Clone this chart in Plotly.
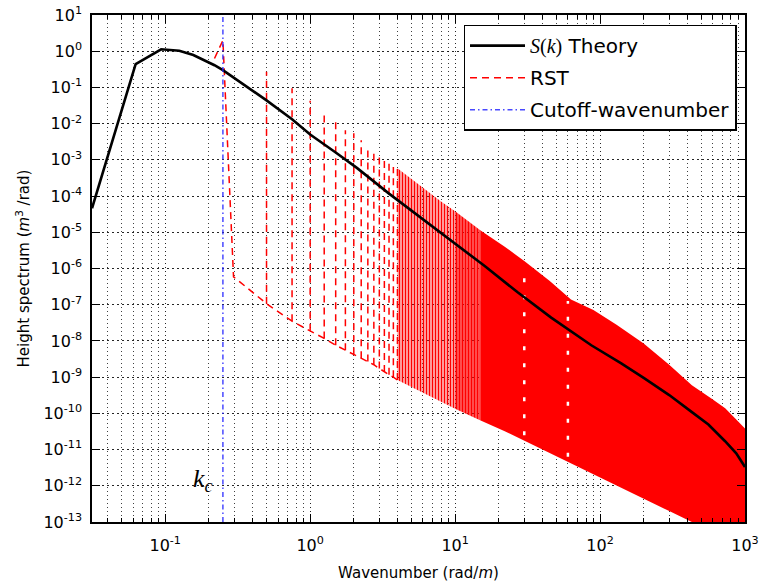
import math
import plotly.graph_objects as go

# ---------------- data ----------------
# Theory S(k)
theory_k = [0.03125, 0.0625, 0.09375, 0.125, 0.15625, 0.1875, 0.21875, 0.25, 0.3125,
            0.5, 0.75, 1.0, 1.5, 2.1, 3.5, 5.5, 10, 16, 27, 46, 87, 140, 200, 300,
            428, 559, 729, 870, 1000]
theory_S = [4.6e-5, 0.44, 1.13, 1.03, 0.785, 0.56, 0.41, 0.30, 0.16,
            0.044, 0.0132, 5.0e-3, 1.6e-3, 6.0e-4, 1.17e-4, 2.95e-5, 4.8e-6, 1.17e-6,
            2.2e-7, 4.4e-8, 7.6e-9, 2.4e-9, 9.5e-10, 3.2e-10, 1.1e-10, 4.9e-11,
            1.7e-11, 7.9e-12, 3.3e-12]

# RST: first peak at the cutoff wavenumber
rst_head_k = [0.21875, 0.25, 0.296]
rst_head_S = [0.63, 2.0, 5.9e-7]

# RST: individual spikes (harmonics of k_c) with base and top levels
spike_k = [0.5, 0.75, 1.0, 1.25, 1.5, 1.75, 2.0, 2.25, 2.5, 2.75, 3.0, 3.25, 3.5, 3.75, 4.0]
spike_base = [1.07e-7, 3.5e-8, 1.9e-8, 1.17e-8, 7.6e-9, 5.5e-9, 4.3e-9, 3.3e-9, 2.7e-9,
              2.2e-9, 1.74e-9, 1.38e-9, 1.17e-9, 1.0e-9, 8.3e-10]
spike_top = [0.27, 0.095, 0.043, 0.021, 0.011, 6.6e-3, 5.4e-3, 3.5e-3, 2.1e-3,
             2.0e-3, 1.26e-3, 1.17e-3, 8.3e-4, 6.3e-4, 5.9e-4]

# RST: dense region envelope (upper / lower)
band_k = [4, 5.5, 8, 10, 15, 22, 30, 45, 63, 90, 130, 200, 300, 430, 600, 730, 870, 1000]
band_upper = [5.9e-4, 2.2e-4, 7.1e-5, 3.8e-5, 1.12e-5, 4.0e-6, 1.6e-6, 4.5e-7, 1.4e-7,
              7.1e-8, 2.8e-8, 8.5e-9, 2.2e-9, 6.0e-10, 2.4e-10, 1.38e-10, 6.8e-11, 3.8e-11]
band_lower = [8.3e-10, 4.5e-10, 2.1e-10, 1.35e-10, 6.3e-11, 3.2e-11, 1.78e-11, 7.9e-12,
              4.2e-12, 2.1e-12, 1.05e-12, 4.4e-13, 2.0e-13, 1.0e-13, 5.0e-14, 3.4e-14,
              2.4e-14, 1.8e-14]

# white dash gaps seen inside the dense region
gap_k = [30, 60]
gap_low = [2.5e-11, 6.3e-12]
gap_high = [7.9e-7, 1.26e-7]

kc = 0.25
y_limits = [1e-13, 10]
x_limits = [0.03125, 1000]
x_tick_exp = [-1, 0, 1, 2, 3]
y_tick_exp = list(range(-13, 2))

FONT = "DejaVu Sans"
RED = "#ff0000"

fig = go.Figure()


def band_trace(k0, k1, **style):
    idx = [i for i, k in enumerate(band_k) if k0 <= k <= k1]
    ks = [band_k[i] for i in idx]
    up = [band_upper[i] for i in idx]
    lo = [band_lower[i] for i in idx]
    return go.Scatter(x=ks + ks[::-1], y=up + lo[::-1], mode="lines",
                      line=dict(width=0, color=RED), fill="toself",
                      showlegend=False, hoverinfo="skip", **style)


fig.add_trace(band_trace(4, 10, fillcolor="rgba(255,255,255,0)",
                         fillpattern=dict(shape="|", fgcolor=RED, fgopacity=1,
                                          bgcolor="rgba(255,255,255,0)",
                                          size=3, solidity=0.6)))
fig.add_trace(band_trace(10, 15, fillcolor="rgba(255,255,255,0)",
                         fillpattern=dict(shape="|", fgcolor=RED, fgopacity=1,
                                          bgcolor="rgba(255,255,255,0)",
                                          size=3, solidity=0.8)))
fig.add_trace(band_trace(15, 1000, fillcolor=RED))

# white gaps
gx, gy = [], []
for k, lo, hi in zip(gap_k, gap_low, gap_high):
    gx += [k, k, None]
    gy += [lo, hi, None]
fig.add_trace(go.Scatter(x=gx, y=gy, mode="lines", showlegend=False, hoverinfo="skip",
                         line=dict(color="white", width=2.5, dash="4px,13px")))

# RST baseline path (with first peak)
fig.add_trace(go.Scatter(x=rst_head_k + spike_k, y=rst_head_S + spike_base, mode="lines",
                         name="RST", legendrank=2, legendgroup="b",
                         line=dict(color=RED, width=1.5, dash="7px,5px")))
# RST spikes
sx, sy = [], []
for k, b, t in zip(spike_k, spike_base, spike_top):
    sx += [k, k, None]
    sy += [b, t, None]
fig.add_trace(go.Scatter(x=sx, y=sy, mode="lines", showlegend=False, hoverinfo="skip",
                         line=dict(color=RED, width=1.5, dash="7px,5px")))

# Theory
fig.add_trace(go.Scatter(x=theory_k, y=theory_S, mode="lines",
                         name="<span style='font-family:Liberation Serif'><i>S</i>(<i>k</i>)</span> Theory",
                         legendrank=1, legendgroup="a",
                         line=dict(color="black", width=2.6)))

# Cutoff wavenumber
fig.add_trace(go.Scatter(x=[kc, kc], y=y_limits, mode="lines", name="Cutoff-wavenumber",
                         legendrank=3, legendgroup="c",
                         line=dict(color="rgba(40,40,255,0.85)", width=1.5,
                                   dash="5px,3px,1.5px,3px")))

fig.add_annotation(x=math.log10(0.182), y=math.log10(1.4e-12), xref="x", yref="y",
                   text="<i>k</i><sub><i>c</i></sub>", showarrow=False,
                   font=dict(family="Liberation Serif", size=26, color="black"))

minor_x = [m * 10 ** e for e in range(-2, 3) for m in range(2, 10)
           if x_limits[0] < m * 10 ** e < x_limits[1]]

fig.update_layout(
    width=761, height=584,
    margin=dict(l=92, r=16, t=15, b=62, autoexpand=False),
    paper_bgcolor="white", plot_bgcolor="white",
    font=dict(family=FONT, size=16, color="black"),
    showlegend=True,
    legend=dict(x=0.987, y=0.981, xanchor="right", yanchor="top",
                bgcolor="white", bordercolor="black", borderwidth=1.5,
                font=dict(family=FONT, size=20, color="black"),
                tracegroupgap=3, itemwidth=55),
    xaxis=dict(type="log", range=[math.log10(x_limits[0]), math.log10(x_limits[1])],
               automargin=False, ticklabeloverflow="allow",
               tickvals=[10 ** e for e in x_tick_exp],
               ticktext=[f"10<sup>{e}</sup>" for e in x_tick_exp],
               ticks="inside", ticklen=8, tickwidth=1, tickcolor="black",
               ticklabelstandoff=8,
               showline=True, linecolor="black", linewidth=1.5, mirror="allticks",
               showgrid=True, gridcolor="rgba(0,0,0,0.85)", gridwidth=1, griddash="1px,3px",
               zeroline=False,
               minor=dict(tickvals=minor_x, ticks="inside", ticklen=4, tickcolor="black",
                          showgrid=True, gridcolor="rgba(0,0,0,0.75)", gridwidth=1,
                          griddash="1px,3px"),
               title=dict(text="Wavenumber (rad/<i>m</i>)", font=dict(size=15), standoff=14)),
    yaxis=dict(type="log", range=[math.log10(y_limits[0]), math.log10(y_limits[1])],
               automargin=False, ticklabeloverflow="allow",
               tickvals=[10 ** e for e in y_tick_exp],
               ticktext=[f"10<sup>{e}</sup>" for e in y_tick_exp],
               ticks="inside", ticklen=8, tickwidth=1, tickcolor="black",
               ticklabelstandoff=5,
               showline=True, linecolor="black", linewidth=1.5, mirror="allticks",
               showgrid=True, gridcolor="rgba(0,0,0,0.85)", gridwidth=1, griddash="2px,3px",
               zeroline=False,
               title=dict(text="Height spectrum (<i>m</i><sup>3</sup> /rad)",
                          font=dict(size=15), standoff=10)),
)

# remove the default 8px page margin so the figure fills the window exactly
fig.write_html("out.html", config={"displayModeBar": False},
               post_script="document.body.style.margin='0';")
